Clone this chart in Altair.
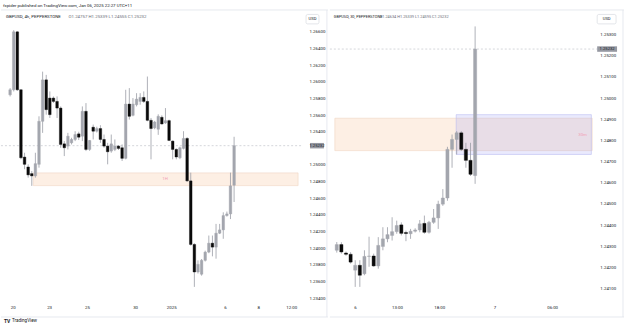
import json
import altair as alt
import pandas as pd

FONT = "Roboto"
TXT = "#131722"
UP = "#a3a6ae"
DOWN = "#0a0a0a"
WICK = "#9a9da5"
FRAME = "#e0e3eb"

published = "fxpider published on TradingView.com, Jan 06, 2025 22:27 UTC+11"
left_symbol = "GBPUSD, 4h, PEPPERSTONE"
left_ohlc = "O1.24757  H1.25339  L1.24555  C1.25232"
right_symbol = "GBPUSD, 30, PEPPERSTONE"
right_ohlc = "O1.24634  H1.25339  L1.24595  C1.25232"
currency = "USD"
footer = "TradingView"
last_price = 1.25232

# ---- Left panel: GBPUSD 4h ----
l_open = [1.25844, 1.25904, 1.26600, 1.25904, 1.25095, 1.24976, 1.24896, 1.24869, 1.25008, 1.25525,
          1.26023, 1.25804, 1.25804, 1.25764, 1.25684, 1.25254, 1.25227, 1.25266, 1.25307, 1.25374,
          1.25346, 1.25645, 1.25187, 1.25454, 1.25406, 1.25438, 1.25307, 1.25227, 1.25167, 1.25187,
          1.25227, 1.25207, 1.25080, 1.25732, 1.25597, 1.25724, 1.25764, 1.25812, 1.25764, 1.25537,
          1.25446, 1.25430, 1.25573, 1.25505, 1.25533, 1.25287, 1.25187, 1.25087, 1.25199, 1.25319,
          1.24809, 1.24045, 1.23714, 1.23687, 1.23854, 1.23953, 1.24060, 1.24013, 1.24180, 1.24220,
          1.24392, 1.24412, 1.24757]
l_high = [1.25924, 1.26620, 1.26610, 1.25910, 1.25147, 1.25008, 1.24928, 1.25147, 1.25585, 1.26122,
          1.26083, 1.25884, 1.25824, 1.25824, 1.25704, 1.25287, 1.25386, 1.25327, 1.25406, 1.25400,
          1.25704, 1.25744, 1.25300, 1.25486, 1.25460, 1.25478, 1.25366, 1.25266, 1.25366, 1.25307,
          1.25240, 1.25247, 1.25904, 1.25924, 1.25804, 1.25863, 1.25863, 1.25884, 1.26063, 1.25565,
          1.25530, 1.25609, 1.25597, 1.25684, 1.25545, 1.25295, 1.25200, 1.25220, 1.25406, 1.25334,
          1.24908, 1.24060, 1.23854, 1.23870, 1.23970, 1.24152, 1.24152, 1.24292, 1.24292, 1.24431,
          1.24440, 1.24908, 1.25339]
l_low = [1.25824, 1.25884, 1.25890, 1.25070, 1.24949, 1.24848, 1.24749, 1.24848, 1.24968, 1.25386,
         1.25605, 1.25565, 1.25745, 1.25565, 1.25207, 1.25107, 1.25187, 1.25247, 1.25287, 1.25300,
         1.25287, 1.25167, 1.25170, 1.25307, 1.25390, 1.25266, 1.25207, 1.25008, 1.25147, 1.25167,
         1.25180, 1.25048, 1.25068, 1.25546, 1.25585, 1.25704, 1.25724, 1.25745, 1.25525, 1.25068,
         1.25430, 1.25362, 1.25486, 1.25495, 1.25287, 1.25068, 1.25068, 1.25070, 1.25187, 1.24797,
         1.24030, 1.23535, 1.23695, 1.23670, 1.23840, 1.23940, 1.23902, 1.23874, 1.24170, 1.24113,
         1.24380, 1.24350, 1.24555]
l_close = [1.25904, 1.26600, 1.25904, 1.25087, 1.25008, 1.24881, 1.24869, 1.25016, 1.25525, 1.26023,
           1.25665, 1.25605, 1.25764, 1.25684, 1.25247, 1.25207, 1.25346, 1.25307, 1.25366, 1.25334,
           1.25645, 1.25187, 1.25295, 1.25406, 1.25438, 1.25307, 1.25227, 1.25159, 1.25254, 1.25227,
           1.25199, 1.25080, 1.25732, 1.25585, 1.25732, 1.25792, 1.25812, 1.25764, 1.25537, 1.25438,
           1.25517, 1.25585, 1.25493, 1.25533, 1.25295, 1.25187, 1.25096, 1.25207, 1.25319, 1.24809,
           1.24045, 1.23714, 1.23806, 1.23854, 1.23953, 1.24060, 1.24013, 1.24180, 1.24220, 1.24392,
           1.24412, 1.24749, 1.25232]

# ---- Right panel: GBPUSD 30m ----
r_open = [1.24281, 1.24308, 1.24268, 1.24262, 1.24187, 1.24210, 1.24170, 1.24252, 1.24254, 1.24207,
          1.24299, 1.24335, 1.24351, 1.24369, 1.24401, 1.24365, 1.24359, 1.24371, 1.24377, 1.24408,
          1.24366, 1.24413, 1.24434, 1.24499, 1.24528, 1.24758, 1.24805, 1.24836, 1.24758, 1.24706,
          1.24634]
r_high = [1.24320, 1.24319, 1.24275, 1.24272, 1.24234, 1.24234, 1.24281, 1.24345, 1.24265, 1.24343,
          1.24390, 1.24390, 1.24437, 1.24421, 1.24413, 1.24374, 1.24382, 1.24385, 1.24424, 1.24445,
          1.24420, 1.24476, 1.24515, 1.24570, 1.24770, 1.24828, 1.24844, 1.24844, 1.24789, 1.24789,
          1.25339]
r_low = [1.24270, 1.24265, 1.24255, 1.24218, 1.24108, 1.24108, 1.24163, 1.24203, 1.24203, 1.24194,
         1.24281, 1.24319, 1.24327, 1.24359, 1.24351, 1.24324, 1.24335, 1.24365, 1.24366, 1.24359,
         1.24360, 1.24406, 1.24382, 1.24491, 1.24515, 1.24671, 1.24734, 1.24750, 1.24671, 1.24632,
         1.24595]
r_close = [1.24308, 1.24273, 1.24262, 1.24225, 1.24210, 1.24163, 1.24252, 1.24254, 1.24207, 1.24304,
           1.24335, 1.24355, 1.24369, 1.24398, 1.24361, 1.24360, 1.24371, 1.24377, 1.24406, 1.24366,
           1.24413, 1.24434, 1.24499, 1.24528, 1.24758, 1.24805, 1.24836, 1.24758, 1.24706, 1.24640,
           1.25232]

# axis ticks
left_tick_pos = [0.72, 10.8, 21.3, 34.6, 44.6, 59.5, 68.7, 77.8]
left_tick_lab = ["20", "23", "25", "30", "2025", "6", "8", "12:00"]
right_tick_pos = [3.94, 13.07, 22.2, 34.2, 46.7]
right_tick_lab = ["6", "13:00", "18:00", "7", "06:00"]
left_price_ticks = [1.234, 1.236, 1.238, 1.240, 1.242, 1.244, 1.246, 1.248, 1.250,
                    1.254, 1.256, 1.258, 1.260, 1.262, 1.264, 1.266]
right_price_ticks = [1.241, 1.242, 1.243, 1.244, 1.245, 1.246, 1.247, 1.248, 1.249,
                     1.250, 1.251, 1.252, 1.253]

# visible ranges (candle index / price)
left_x_range = [-1.144, 79.71]
left_y_range = [1.23352, 1.26851]
right_x_range = [-0.415, 55.39]
right_y_range = [1.24036, 1.25412]

# zones
zone_lo, zone_hi = 1.24752, 1.24905
left_zone_start = 6.4
purple_lo, purple_hi = 1.24734, 1.24922
purple_start, purple_end = 25.9, 55.2
left_zone_label = ("1H", 42.9, 1.24828)
right_zone_label = ("30m", 53.3, 1.24825)

H = 293


def box_path(w, h):
    r = h / w
    return f"M-1,-{r:.3f}L1,-{r:.3f}L1,{r:.3f}L-1,{r:.3f}Z"


def panel(o, h, l, c, W, xdom, ydom, xvals, xlabs, yvals, ypad, yext, body_w,
          zone_start, zone_label, sym, ohlc, head_fs, ohlc_x, usd_x0, usd_x1, box_cx, box_w,
          purple=False, first=False):
    df = pd.DataFrame({"i": list(range(len(o))), "open": o, "high": h, "low": l, "close": c})
    df["dir"] = ["up" if cc >= oo else "down" for oo, cc in zip(o, c)]
    expr = json.dumps(xlabs) + "[indexof(" + json.dumps(xvals) + ", datum.value)]"
    xs = alt.Scale(domain=xdom, nice=False, zero=False)
    ys = alt.Scale(domain=ydom, nice=False, zero=False)
    xax = alt.Axis(values=xvals, labelExpr=expr, title=None, grid=False, domain=False, ticks=False,
                   labelFontSize=4.4, labelFont=FONT, labelColor=TXT, labelPadding=3.5,
                   labelFlush=False, labelOverlap=False, minExtent=12, maxExtent=12)
    yax = alt.Axis(orient="right", values=yvals, format=".5f", title=None, grid=False, domain=False,
                   ticks=False, labelFontSize=4.4, labelFont=FONT, labelColor=TXT, labelPadding=ypad,
                   labelFlush=False, labelOverlap=False, minExtent=yext, maxExtent=yext)

    def X(f):
        return alt.X(f, type="quantitative", scale=xs, axis=xax)

    def Y(f):
        return alt.Y(f, type="quantitative", scale=ys, axis=yax)

    cscale = alt.Scale(domain=["up", "down"], range=[UP, DOWN])
    layers = []
    zdf = pd.DataFrame({"x1": [zone_start], "x2": [xdom[1]], "lo": [zone_lo], "hi": [zone_hi]})
    layers.append(alt.Chart(zdf).mark_rect(fill="#fdefe4", stroke="#f0d5c3", strokeWidth=0.6)
                  .encode(x=X("x1"), x2="x2", y=Y("lo"), y2="hi"))
    if purple:
        pdf = pd.DataFrame({"x1": [purple_start], "x2": [purple_end], "lo": [purple_lo], "hi": [purple_hi]})
        layers.append(alt.Chart(pdf).mark_rect(fill="#9495f4", fillOpacity=0.2, stroke="#b9bbf0",
                                               strokeWidth=0.6)
                      .encode(x=X("x1"), x2="x2", y=Y("lo"), y2="hi"))
    zl = pd.DataFrame({"t": [zone_label[0]], "i": [zone_label[1]], "p": [zone_label[2]]})
    layers.append(alt.Chart(zl).mark_text(fontSize=4.4, font=FONT, color="#f2a0b6", align="center",
                                          baseline="middle")
                  .encode(x=X("i"), y=Y("p"), text="t:N"))
    lp = pd.DataFrame({"p": [last_price], "t": [f"{last_price:.5f}"]})
    layers.append(alt.Chart(lp).mark_rule(color="#b8bbc3", strokeDash=[2, 2], strokeWidth=0.6)
                  .encode(y=Y("p"), x=alt.value(0), x2=alt.value(W)))
    layers.append(alt.Chart(df).mark_rule(color=WICK, strokeWidth=0.8)
                  .encode(x=X("i"), y=Y("low"), y2="high"))
    layers.append(alt.Chart(df).mark_bar(size=body_w, strokeWidth=0.4)
                  .encode(x=X("i"), y=Y("open"), y2="close",
                          color=alt.Color("dir:N", scale=cscale, legend=None),
                          stroke=alt.Stroke("dir:N", scale=cscale, legend=None)))
    # last price label on price scale
    layers.append(alt.Chart(lp).mark_point(shape=box_path(box_w, 5.5), filled=True, size=box_w ** 2,
                                           color="#9598a1", opacity=1, strokeWidth=0)
                  .encode(y=Y("p"), x=alt.value(W + box_cx)))
    layers.append(alt.Chart(lp).mark_text(fontSize=4.2, font=FONT, color=TXT, align="center",
                                          baseline="middle")
                  .encode(y=Y("p"), x=alt.value(W + box_cx), text="t:N"))
    # header
    layers.append(alt.Chart(pd.DataFrame({"t": [sym]})).mark_text(
        fontSize=head_fs, font=FONT, color=TXT, align="left", baseline="middle")
        .encode(text="t:N", x=alt.value(5 if first else 4), y=alt.value(6)))
    layers.append(alt.Chart(pd.DataFrame({"t": [ohlc]})).mark_text(
        fontSize=head_fs, font=FONT, color="#6a6d78", align="left", baseline="middle")
        .encode(text="t:N", x=alt.value(ohlc_x), y=alt.value(6)))
    # currency box
    cur = pd.DataFrame({"t": [currency]})
    layers.append(alt.Chart(cur).mark_rect(fill="white", stroke="#d1d4dc", strokeWidth=0.6, cornerRadius=1.5)
                  .encode(x=alt.value(W + usd_x0), x2=alt.value(W + usd_x1), y=alt.value(3.5),
                          y2=alt.value(13)))
    layers.append(alt.Chart(cur).mark_text(fontSize=4.2, font=FONT, color=TXT, align="center",
                                           baseline="middle")
                  .encode(text="t:N", x=alt.value(W + (usd_x0 + usd_x1) / 2), y=alt.value(8.3)))
    # frame
    fr = pd.DataFrame({"t": ["f"]})
    layers.append(alt.Chart(fr).mark_rule(color=FRAME, strokeWidth=0.8)
                  .encode(x=alt.value(0), x2=alt.value(W + yext), y=alt.value(-1)))
    layers.append(alt.Chart(fr).mark_rule(color=FRAME, strokeWidth=0.8)
                  .encode(x=alt.value(0), x2=alt.value(W + yext), y=alt.value(H + 15)))
    layers.append(alt.Chart(fr).mark_rule(color=FRAME, strokeWidth=0.8)
                  .encode(x=alt.value(W + yext - 1), y=alt.value(-1), y2=alt.value(H + 15)))
    if first:
        layers.append(alt.Chart(pd.DataFrame({"t": [published]})).mark_text(
            fontSize=4.4, font=FONT, color=TXT, align="left", baseline="middle")
            .encode(text="t:N", x=alt.value(2), y=alt.value(-5)))
        layers.append(alt.Chart(pd.DataFrame({"t": ["TV"]})).mark_text(
            fontSize=5, font=FONT, fontWeight="bold", color=TXT, align="left", baseline="middle")
            .encode(text="t:N", x=alt.value(3), y=alt.value(H + 19.5)))
        layers.append(alt.Chart(pd.DataFrame({"t": [footer]})).mark_text(
            fontSize=4.6, font=FONT, color=TXT, align="left", baseline="middle")
            .encode(text="t:N", x=alt.value(11), y=alt.value(H + 19.5)))
    return alt.layer(*layers).properties(width=W, height=H)


left = panel(l_open, l_high, l_low, l_close, 304, left_x_range, left_y_range,
             left_tick_pos, left_tick_lab, left_price_ticks, 6, 25, 2.6,
             left_zone_start, left_zone_label, left_symbol, left_ohlc, 4.4, 68, 3, 16, 14, 14,
             purple=False, first=True)
right = panel(r_open, r_high, r_low, r_close, 269, right_x_range, right_y_range,
              right_tick_pos, right_tick_lab, right_price_ticks, 2.7, 27, 3.2,
              right_x_range[0], right_zone_label, right_symbol, right_ohlc, 3.9, 50, 0, 19, 10, 20,
              purple=True, first=False)

chart = (alt.hconcat(left, right, spacing=0)
         .properties(padding={"left": 0, "top": 2, "right": 0, "bottom": 0}, background="white")
         .configure_view(stroke=None))

chart.save("out.html", embed_options={"renderer": "svg", "actions": False})
